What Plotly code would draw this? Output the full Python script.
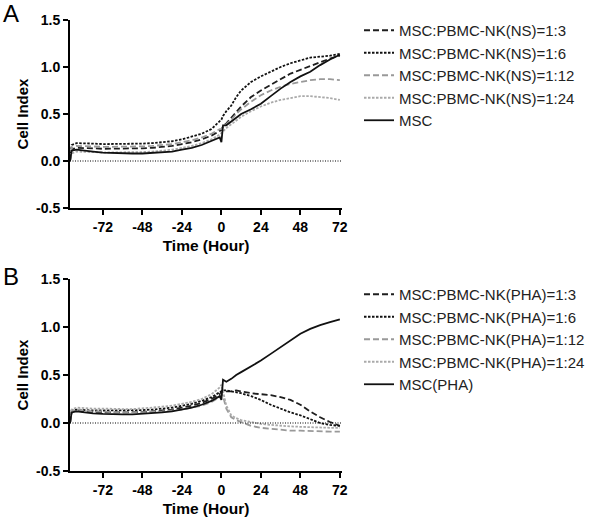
import plotly.graph_objects as go

# ---------------- data ----------------
time_h = [-92, -91, -88, -84, -78, -72, -66, -60, -54, -48, -42, -36, -30, -24, -18, -12, -6, -1,
          0, 1, 3, 6, 9, 12, 18, 24, 30, 36, 42, 48, 54, 60, 66, 72]

# Panel A (NS)
ns_1_3 = [0.0, 0.12, 0.14, 0.14, 0.135, 0.13, 0.13, 0.13, 0.13, 0.135, 0.14, 0.15, 0.16, 0.18, 0.20, 0.23, 0.27, 0.32,
          0.33, 0.37, 0.40, 0.46, 0.52, 0.58, 0.68, 0.75, 0.81, 0.87, 0.93, 0.97, 1.01, 1.05, 1.09, 1.12]
ns_1_6 = [0.0, 0.17, 0.19, 0.19, 0.185, 0.18, 0.18, 0.18, 0.18, 0.185, 0.19, 0.20, 0.21, 0.23, 0.26, 0.29, 0.34, 0.42,
          0.44, 0.48, 0.53, 0.59, 0.68, 0.75, 0.84, 0.90, 0.95, 1.00, 1.04, 1.07, 1.10, 1.11, 1.12, 1.14]
ns_1_12 = [0.0, 0.14, 0.16, 0.16, 0.155, 0.15, 0.15, 0.15, 0.15, 0.155, 0.16, 0.17, 0.18, 0.20, 0.22, 0.25, 0.29, 0.34,
           0.34, 0.36, 0.39, 0.44, 0.50, 0.55, 0.63, 0.70, 0.75, 0.79, 0.82, 0.84, 0.86, 0.87, 0.87, 0.86]
ns_1_24 = [0.0, 0.08, 0.10, 0.10, 0.095, 0.09, 0.09, 0.09, 0.09, 0.095, 0.10, 0.11, 0.12, 0.14, 0.16, 0.19, 0.23, 0.28,
           0.30, 0.32, 0.35, 0.39, 0.43, 0.47, 0.53, 0.58, 0.62, 0.65, 0.67, 0.69, 0.69, 0.68, 0.67, 0.65]
msc_ns = [0.0, 0.11, 0.12, 0.11, 0.10, 0.09, 0.085, 0.08, 0.08, 0.08, 0.085, 0.09, 0.10, 0.12, 0.14, 0.17, 0.21, 0.25,
          0.20, 0.38, 0.38, 0.42, 0.46, 0.50, 0.55, 0.61, 0.69, 0.77, 0.84, 0.90, 0.95, 1.02, 1.08, 1.13]

# Panel B (PHA)
pha_1_3 = [0.0, 0.12, 0.13, 0.12, 0.115, 0.11, 0.11, 0.11, 0.11, 0.115, 0.12, 0.13, 0.14, 0.16, 0.18, 0.21, 0.25, 0.30,
           0.32, 0.34, 0.33, 0.33, 0.34, 0.33, 0.31, 0.30, 0.29, 0.27, 0.24, 0.19, 0.12, 0.06, 0.01, -0.03]
pha_1_6 = [0.0, 0.13, 0.14, 0.135, 0.13, 0.13, 0.13, 0.13, 0.13, 0.135, 0.14, 0.15, 0.16, 0.18, 0.20, 0.23, 0.27, 0.32,
           0.33, 0.34, 0.34, 0.33, 0.32, 0.31, 0.28, 0.24, 0.19, 0.15, 0.11, 0.08, 0.04, 0.0, -0.02, -0.03]
pha_1_12 = [0.0, 0.12, 0.14, 0.13, 0.12, 0.12, 0.11, 0.11, 0.11, 0.11, 0.115, 0.12, 0.13, 0.14, 0.16, 0.18, 0.22, 0.27,
            0.30, 0.28, 0.15, 0.06, 0.03, 0.01, -0.03, -0.05, -0.06, -0.07, -0.08, -0.08, -0.085, -0.09, -0.09, -0.09]
pha_1_24 = [0.0, 0.14, 0.16, 0.155, 0.15, 0.15, 0.145, 0.145, 0.145, 0.15, 0.16, 0.17, 0.18, 0.20, 0.22, 0.25, 0.30, 0.37,
            0.40, 0.33, 0.18, 0.08, 0.05, 0.03, 0.01, -0.01, -0.02, -0.03, -0.035, -0.04, -0.045, -0.05, -0.05, -0.05]
msc_pha = [0.0, 0.11, 0.12, 0.11, 0.10, 0.095, 0.09, 0.09, 0.09, 0.095, 0.10, 0.11, 0.12, 0.14, 0.16, 0.19, 0.23, 0.28,
           0.24, 0.45, 0.43, 0.46, 0.50, 0.53, 0.59, 0.65, 0.72, 0.79, 0.86, 0.93, 0.98, 1.02, 1.05, 1.08]

names_a = ["MSC:PBMC-NK(NS)=1:3", "MSC:PBMC-NK(NS)=1:6", "MSC:PBMC-NK(NS)=1:12",
           "MSC:PBMC-NK(NS)=1:24", "MSC"]
names_b = ["MSC:PBMC-NK(PHA)=1:3", "MSC:PBMC-NK(PHA)=1:6", "MSC:PBMC-NK(PHA)=1:12",
           "MSC:PBMC-NK(PHA)=1:24", "MSC(PHA)"]
series_a = [ns_1_3, ns_1_6, ns_1_12, ns_1_24, msc_ns]
series_b = [pha_1_3, pha_1_6, pha_1_12, pha_1_24, msc_pha]

x_ticks = [-72, -48, -24, 0, 24, 48, 72]
x_tick_text = ["-72", "-48", "-24", "0", "24", "48", "72"]
y_ticks = [-0.5, 0.0, 0.5, 1.0, 1.5]
y_tick_text = ["-0.5", "0.0", "0.5", "1.0", "1.5"]

# ---------------- styles ----------------
styles = [
    dict(color="#1e1e1e", dash="6px,3px", width=1.8),
    dict(color="#111111", dash="2.5px,1.5px", width=1.8),
    dict(color="#999999", dash="6px,3px", width=1.8),
    dict(color="#aaaaaa", dash="2.5px,1.5px", width=1.8),
    dict(color="#111111", dash="solid", width=1.8),
]

FONT = "Arial, Liberation Sans, Helvetica, sans-serif"
W, H = 600, 517

fig = go.Figure()
for name, ys, st in zip(names_a, series_a, styles):
    fig.add_trace(go.Scatter(x=time_h, y=ys, name=name, mode="lines", line=st,
                             xaxis="x", yaxis="y", legend="legend"))
for name, ys, st in zip(names_b, series_b, styles):
    fig.add_trace(go.Scatter(x=time_h, y=ys, name=name, mode="lines", line=st,
                             xaxis="x2", yaxis="y2", legend="legend2"))

xdom = [70 / W, 342 / W]
ydom_a = [1 - 208 / H, 1 - 20 / H]
ydom_b = [1 - 471 / H, 1 - 279 / H]

tickfont = dict(family=FONT, size=14, color="black", weight="bold")
titlefont = dict(family=FONT, size=15, color="black", weight="bold")
xtitlefont = dict(family=FONT, size=15.5, color="black", weight="bold")

common_x = dict(range=[-92, 73.3], tickvals=x_ticks, ticktext=x_tick_text, showline=True,
                linecolor="black", linewidth=2, ticks="outside", ticklen=5, tickwidth=2,
                tickcolor="black", showgrid=False, zeroline=False, tickfont=tickfont,
                domain=xdom, automargin=False)
common_y = dict(range=[-0.5, 1.5], tickvals=y_ticks, ticktext=y_tick_text, showline=True,
                linecolor="black", linewidth=2, ticks="outside", ticklen=5, tickwidth=2,
                tickcolor="black", showgrid=False, zeroline=False, tickfont=tickfont,
                automargin=False)

legend_common = dict(font=dict(family=FONT, size=15, color="#222222"), bgcolor="rgba(0,0,0,0)",
                     xanchor="left", yanchor="top", tracegroupgap=0, itemwidth=30)

fig.update_layout(
    template="none",
    width=W, height=H,
    margin=dict(l=0, r=0, t=0, b=0, autoexpand=False),
    paper_bgcolor="white", plot_bgcolor="white",
    xaxis=dict(**common_x, anchor="y", title=dict(text="Time (Hour)", font=xtitlefont, standoff=6)),
    yaxis=dict(**common_y, domain=ydom_a, anchor="x", title=dict(text="Cell Index", font=titlefont, standoff=4)),
    xaxis2=dict(**common_x, anchor="y2", title=dict(text="Time (Hour)", font=xtitlefont, standoff=6)),
    yaxis2=dict(**common_y, domain=ydom_b, anchor="x2", title=dict(text="Cell Index", font=titlefont, standoff=4)),
    legend=dict(**legend_common, x=359 / W, y=1 - 14 / H),
    legend2=dict(**legend_common, x=359 / W, y=1 - 278 / H),
    showlegend=True,
    shapes=[
        dict(type="line", xref="x domain", yref="y", x0=0, x1=1, y0=0, y1=0,
             line=dict(color="black", width=1, dash="1px,1.5px")),
        dict(type="line", xref="x2 domain", yref="y2", x0=0, x1=1, y0=0, y1=0,
             line=dict(color="black", width=1, dash="1px,1.5px")),
    ],
    annotations=[
        dict(text="A", x=1 / W, y=1 - 13 / H, xref="paper", yref="paper", xanchor="left",
             yanchor="middle", showarrow=False, font=dict(family=FONT, size=24, color="black")),
        dict(text="B", x=1 / W, y=1 - 276 / H, xref="paper", yref="paper", xanchor="left",
             yanchor="middle", showarrow=False, font=dict(family=FONT, size=24, color="black")),
    ],
)

fig.write_html("out.html", config={"displayModeBar": False},
               post_script="document.body.style.margin='0';")
